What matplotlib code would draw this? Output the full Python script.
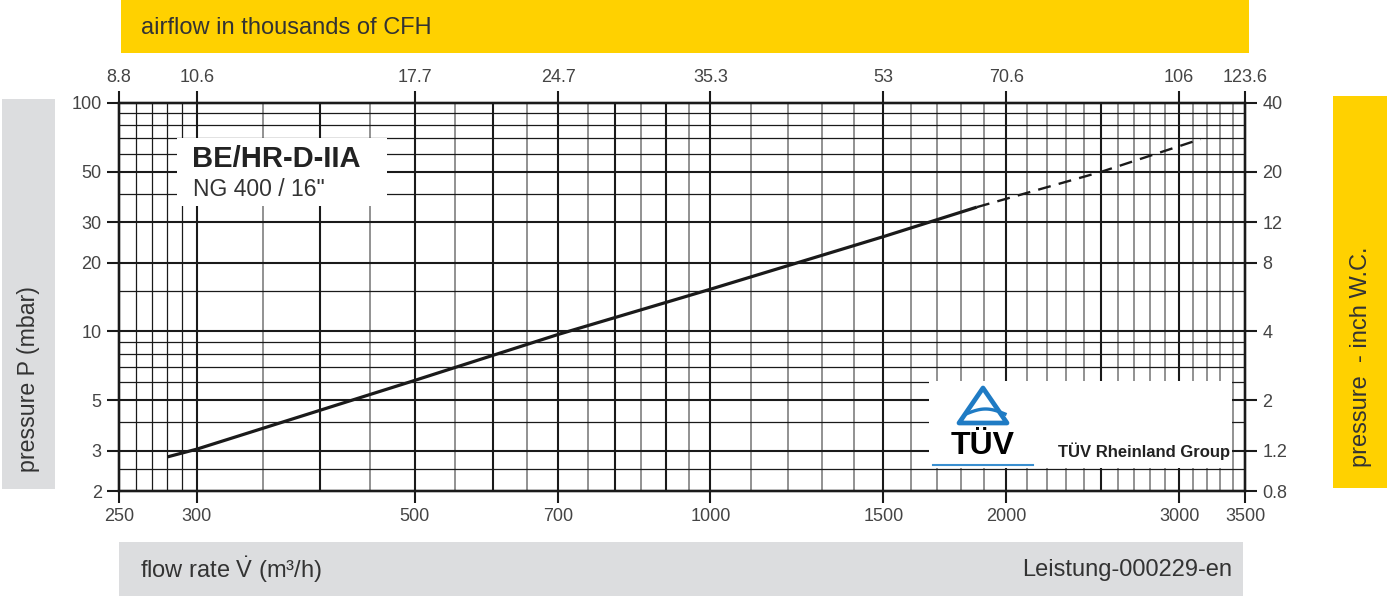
import numpy as np
import matplotlib
matplotlib.use('Agg')
import matplotlib.pyplot as plt
from matplotlib.patches import Rectangle, Polygon
from matplotlib.lines import Line2D

plt.rcParams['font.family'] = ['Liberation Sans', 'DejaVu Sans']
plt.rcParams['mathtext.fontset'] = 'custom'
plt.rcParams['mathtext.rm'] = 'Liberation Sans'
plt.rcParams['mathtext.it'] = 'Liberation Sans:italic'

# curve: flow rate (m3/h) vs pressure drop (mbar)
flow_solid = [280, 300, 500, 700, 1000, 1500, 1867]
dp_solid = [2.82, 3.05, 6.1, 9.7, 15.3, 26.0, 35.0]
flow_dash = [1867, 2500, 3155]
dp_dash = [35.0, 50.0, 69.5]

# axes ticks
x_ticks = [250, 300, 500, 700, 1000, 1500, 2000, 3000, 3500]
x_labels = ['250', '300', '500', '700', '1000', '1500', '2000', '3000', '3500']
cfh_labels = ['8.8', '10.6', '17.7', '24.7', '35.3', '53', '70.6', '106', '123.6']
y_ticks = [100, 50, 30, 20, 10, 5, 3, 2]
y_labels = ['100', '50', '30', '20', '10', '5', '3', '2']
wc_labels = ['40', '20', '12', '8', '4', '2', '1.2', '0.8']

# grid lines
x_major = [300, 400, 500, 600, 700, 800, 900, 1000, 1500, 2000, 2500, 3000]
x_thin = [260, 270, 280, 290]
x_gray = [350, 450, 550, 650, 750, 850, 950,
          1100, 1200, 1300, 1400, 1600, 1700, 1800, 1900,
          2100, 2200, 2300, 2400, 2600, 2700, 2800, 2900,
          3100, 3200, 3300, 3400]
y_major = [50, 30, 20, 10, 5, 3]
y_thin = [90, 80, 70, 60, 40, 15, 9, 8, 7, 6, 4, 2.5]

W, H = 1387, 596
fig = plt.figure(figsize=(W / 100, H / 100), dpi=100)


def fx(x):
    return x / W


def fy(y):
    return 1 - y / H


def box(x0, y0, x1, y1, color):
    fig.patches.append(Rectangle((fx(x0), fy(y1)), fx(x1) - fx(x0), fy(y0) - fy(y1),
                                 transform=fig.transFigure, facecolor=color,
                                 edgecolor='none', zorder=0))


yellow = '#FFD100'
lgray = '#DCDDDF'
txt = '#333333'

box(121, 0, 1249, 53, yellow)
box(2, 99, 55, 489, lgray)
box(1333, 96, 1387, 488, yellow)
box(119, 542, 1243, 596, lgray)

fig.text(fx(141), fy(28), 'airflow in thousands of CFH', fontsize=17, color=txt, va='center')
fig.text(fx(29), fy(379), 'pressure P (mbar)', fontsize=16.7, color=txt, rotation=90,
         ha='center', va='center')
fig.text(fx(1361), fy(357), 'pressure  - inch W.C.', fontsize=17, color=txt, rotation=90,
         ha='center', va='center')
fig.text(fx(140), fy(570), r'flow rate $\dot{\mathrm{V}}$ (m\u00b3/h)'.replace('\\u00b3', '\u00b3'),
         fontsize=17, color=txt, va='center')
fig.text(fx(1232), fy(570), 'Leistung-000229-en', fontsize=17, color=txt, va='center', ha='right')

ax = fig.add_axes([fx(119), fy(491), fx(1245) - fx(119), fy(103) - fy(491)])
ax.set_xscale('log')
ax.set_yscale('log')
ax.set_xlim(250, 3500)
ax.set_ylim(2, 100)

for v in x_major:
    ax.axvline(v, color='#1a1a1a', lw=1.5, zorder=1)
for v in x_thin:
    ax.axvline(v, color='#1a1a1a', lw=0.9, zorder=1)
for v in x_gray:
    ax.axvline(v, color='#7f7f7f', lw=1.2, zorder=1)
for v in y_major:
    ax.axhline(v, color='#1a1a1a', lw=1.5, zorder=1)
for v in y_thin:
    ax.axhline(v, color='#1a1a1a', lw=0.9, zorder=1)

ax.plot(flow_solid, dp_solid, color='#1a1a1a', lw=2.3, zorder=3, solid_capstyle='butt')
ax.plot(flow_dash, dp_dash, color='#1a1a1a', lw=1.7, zorder=3, dashes=(5.5, 3.5))

for s in ax.spines.values():
    s.set_linewidth(1.6)
    s.set_color('#1a1a1a')

tick_kw = dict(length=8.5, width=1.5, color='#1a1a1a', labelcolor='#444444',
               labelsize=13, pad=4, direction='out')
ax.set_xticks(x_ticks)
ax.set_xticklabels(x_labels)
ax.set_yticks(y_ticks)
ax.set_yticklabels(y_labels)
ax.minorticks_off()
ax.tick_params(**tick_kw)

top = ax.twiny()
top.set_xscale('log')
top.set_xlim(ax.get_xlim())
top.set_xticks(x_ticks)
top.set_xticklabels(cfh_labels)
top.minorticks_off()
top.tick_params(**tick_kw)

right = ax.twinx()
right.set_yscale('log')
right.set_ylim(ax.get_ylim())
right.set_yticks(y_ticks)
right.set_yticklabels(wc_labels)
right.minorticks_off()
right.tick_params(**tick_kw)
for a in (top, right):
    for s in a.spines.values():
        s.set_linewidth(1.6)
        s.set_color('#1a1a1a')

# model label box
ax.add_patch(Rectangle((fx(177), fy(206)), fx(387) - fx(177), fy(138) - fy(206),
                       transform=fig.transFigure, facecolor='white', edgecolor='none', zorder=2))
fig.text(fx(192), fy(159), 'BE/HR-D-IIA', fontsize=21, fontweight='bold', color='#222222',
         va='center', zorder=5)
fig.text(fx(193), fy(190), 'NG 400 / 16"', fontsize=16.5, color='#333333', va='center', zorder=5)

# TUV logo box
ax.add_patch(Rectangle((fx(929), fy(468)), fx(1232) - fx(929), fy(381) - fy(468),
                       transform=fig.transFigure, facecolor='white', edgecolor='none', zorder=2))
blue = '#1F7BC4'
tri = Polygon([(fx(983), fy(388)), (fx(959), fy(423)), (fx(1007), fy(423))], closed=True,
              transform=fig.transFigure, facecolor='none', edgecolor=blue, lw=3.4, zorder=5,
              joinstyle='round')
ax.add_patch(tri)
wx = np.linspace(966, 1005, 30)
wy = 414 - 5 * np.sin((wx - 966) / 39 * np.pi)
ax.add_line(Line2D(fx(wx), fy(wy), transform=fig.transFigure, color=blue, lw=2.4, zorder=5))
fig.text(fx(983), fy(446), 'T\u00dcV', fontsize=23, fontweight='bold', color='black',
         ha='center', va='center', zorder=5)
ax.add_line(Line2D([fx(933), fx(1033)], [fy(465), fy(465)], transform=fig.transFigure,
                   color='#3A8FD0', lw=1.5, zorder=5))
fig.text(fx(1058), fy(451), 'T\u00dcV Rheinland Group', fontsize=12, fontweight='bold',
         color='#222222', va='center', zorder=5)

fig.savefig('out.png', dpi=100)
